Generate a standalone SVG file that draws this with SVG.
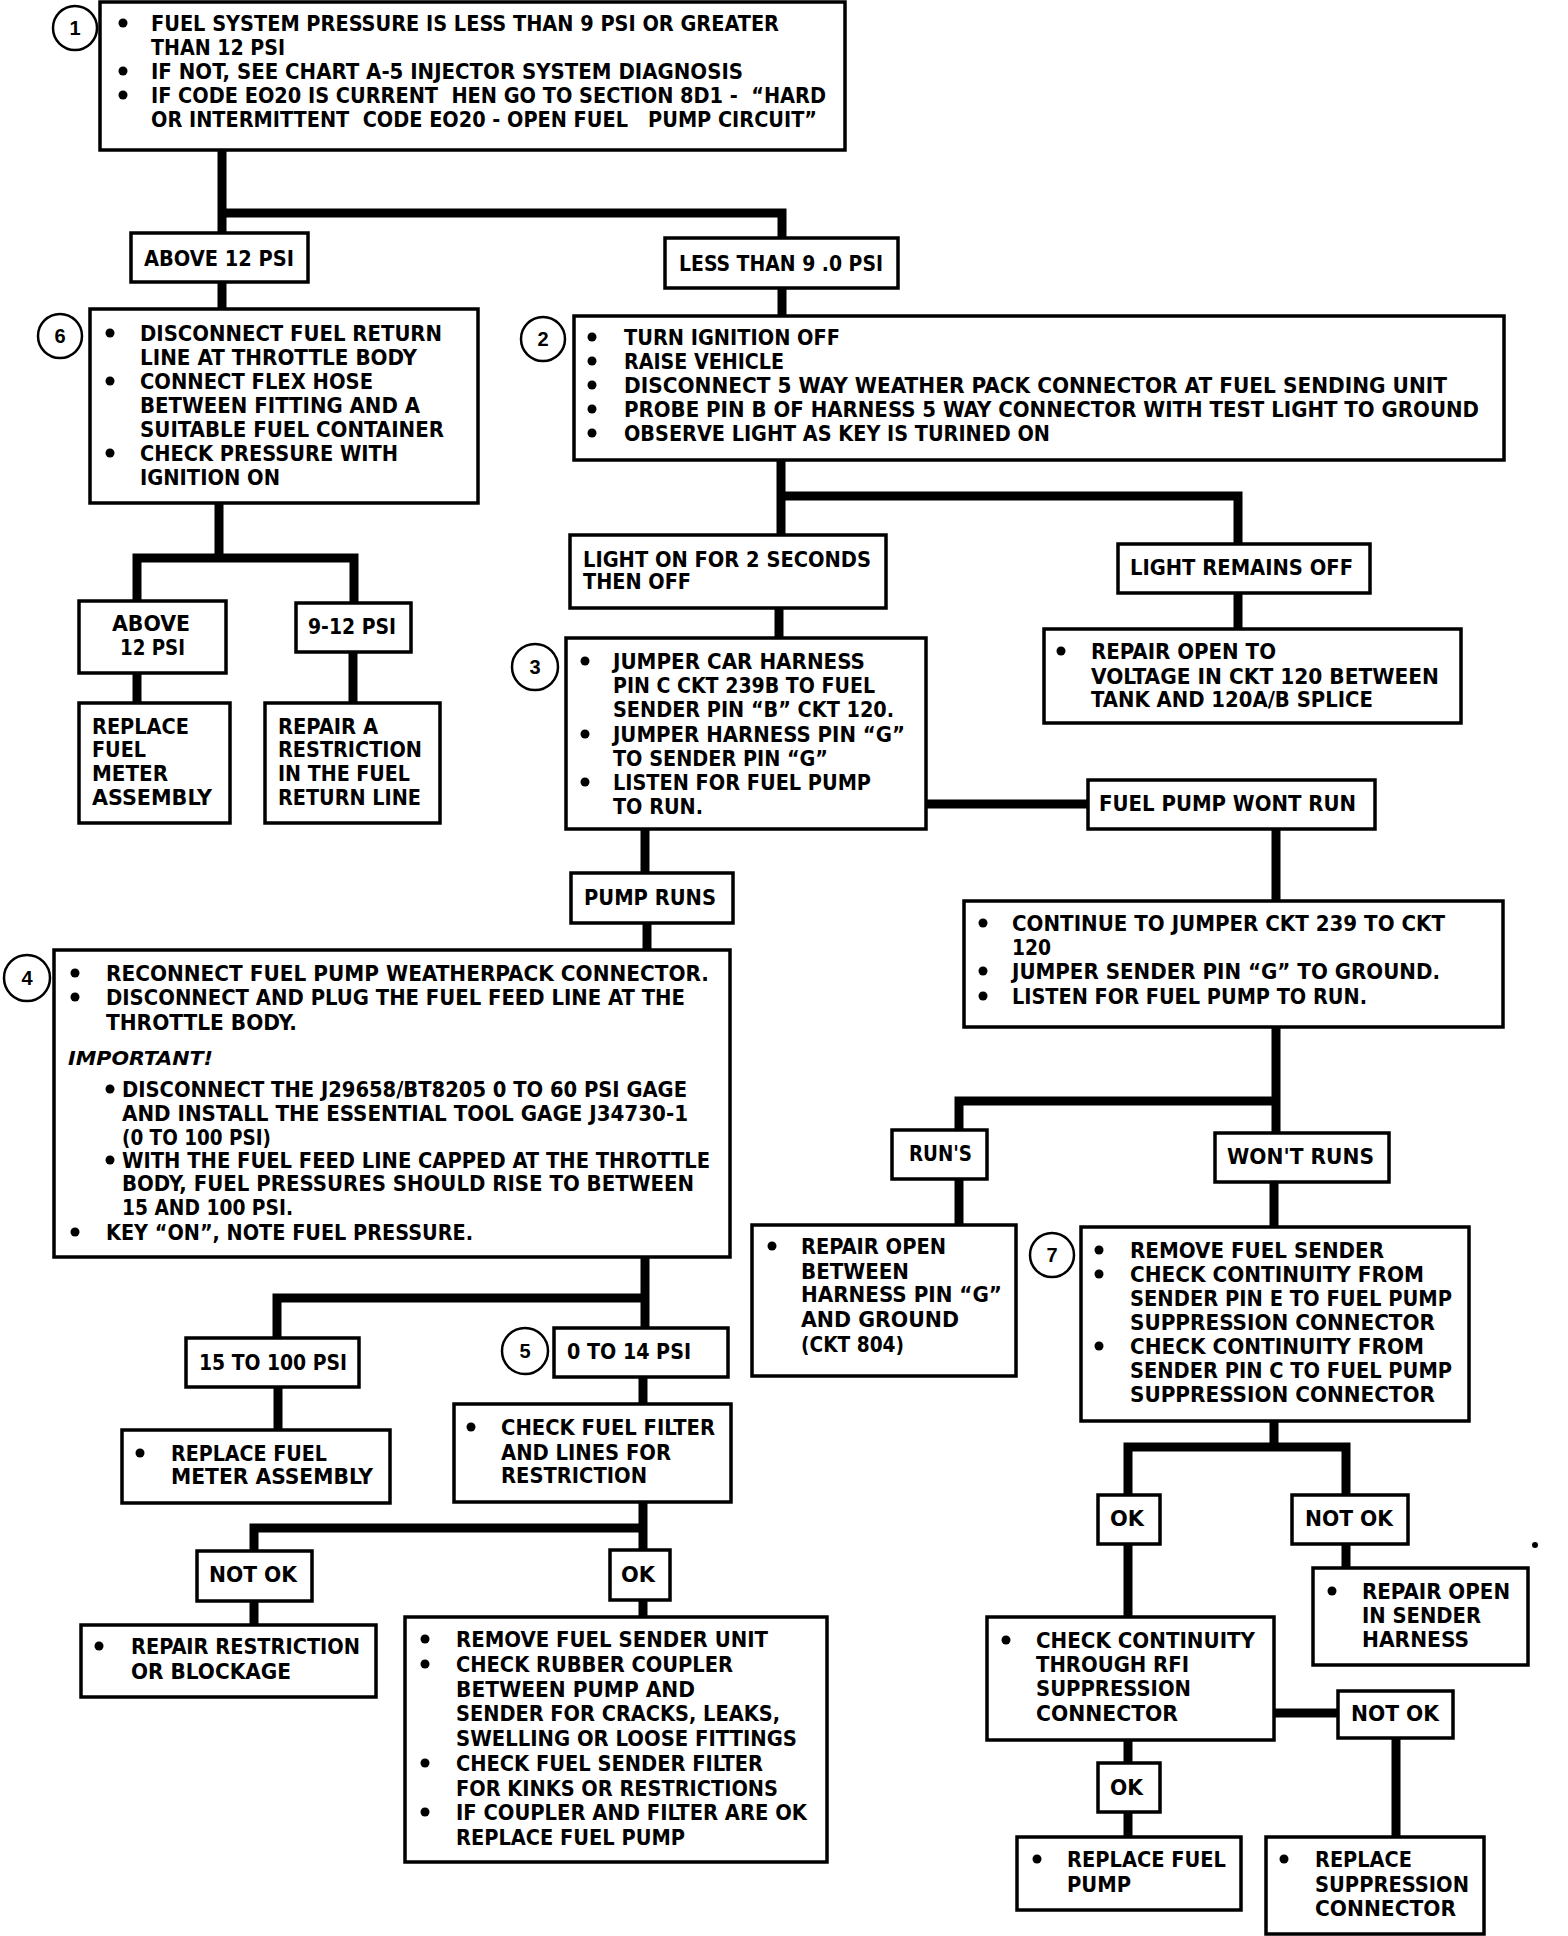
<svg xmlns="http://www.w3.org/2000/svg" width="1568" height="1936" viewBox="0 0 1568 1936">
<style>
.bx{fill:#fff;stroke:#000;stroke-width:3.5}
.t{font-family:"Liberation Sans Narrow","DejaVu Sans Condensed","Liberation Sans",Arial,sans-serif;font-weight:bold;font-size:21px;fill:#000}
.it{font-style:italic;font-size:19px}
.n{font-family:"Liberation Sans",Arial,sans-serif;font-weight:bold;font-size:20px;fill:#000;text-anchor:middle}
.nc{fill:#fff;stroke:#000;stroke-width:2.5}
.c{fill:none;stroke:#000;stroke-width:9;stroke-linejoin:miter;stroke-linecap:butt}
.d{fill:#000}
</style>
<rect width="1568" height="1936" fill="#fff"/>
<g id="connectors">
<path class="c" d="M222 150V233M222 213H782V238"/>
<path class="c" d="M222 282V309"/>
<path class="c" d="M782 288V316"/>
<path class="c" d="M219 503V558M137 601V558H354V603"/>
<path class="c" d="M137 673V703"/>
<path class="c" d="M353 652V703"/>
<path class="c" d="M781 460V535M781 496H1238V544"/>
<path class="c" d="M779 608V638"/>
<path class="c" d="M1238 593V629"/>
<path class="c" d="M926 804H1088"/>
<path class="c" d="M645 829V873"/>
<path class="c" d="M647 923V950"/>
<path class="c" d="M1276 829V901"/>
<path class="c" d="M1276 1027V1133M1276 1101H959V1130"/>
<path class="c" d="M959 1179V1225"/>
<path class="c" d="M1274 1182V1227"/>
<path class="c" d="M645 1257V1328M645 1298H277V1338"/>
<path class="c" d="M278 1387V1430"/>
<path class="c" d="M643 1377V1404"/>
<path class="c" d="M643 1502V1550M643 1528H254V1551"/>
<path class="c" d="M254 1601V1625"/>
<path class="c" d="M643 1600V1617"/>
<path class="c" d="M1274 1421V1447M1128 1495V1447H1346V1495"/>
<path class="c" d="M1346 1544V1568"/>
<path class="c" d="M1128 1544V1617"/>
<path class="c" d="M1274 1713H1338"/>
<path class="c" d="M1396 1738V1837"/>
<path class="c" d="M1128 1740V1763"/>
<path class="c" d="M1128 1812V1837"/>
</g>

<g id="step1">
<rect class="bx" x="100" y="2" width="745" height="148"/>
<circle class="nc" cx="75" cy="28" r="22"/><text class="n" x="75" y="35">1</text>
<circle class="d" cx="123" cy="23" r="4.5"/><circle class="d" cx="123" cy="71" r="4.5"/><circle class="d" cx="123" cy="95" r="4.5"/>
<text class="t" x="151" y="31" textLength="628" lengthAdjust="spacingAndGlyphs">FUEL SYSTEM PRESSURE IS LESS THAN 9 PSI OR GREATER</text>
<text class="t" x="151" y="55" textLength="134" lengthAdjust="spacingAndGlyphs">THAN 12 PSI</text>
<text class="t" x="151" y="79" textLength="592" lengthAdjust="spacingAndGlyphs">IF NOT, SEE CHART A-5 INJECTOR SYSTEM DIAGNOSIS</text>
<text class="t" x="151" y="103" textLength="675" lengthAdjust="spacingAndGlyphs" xml:space="preserve">IF CODE EO20 IS CURRENT  HEN GO TO SECTION 8D1 -  “HARD</text>
<text class="t" x="151" y="127" textLength="666" lengthAdjust="spacingAndGlyphs" xml:space="preserve">OR INTERMITTENT  CODE EO20 - OPEN FUEL   PUMP CIRCUIT”</text>
</g>

<g id="above12">
<rect class="bx" x="131" y="233" width="177" height="49"/>
<text class="t" x="144" y="266" textLength="150" lengthAdjust="spacingAndGlyphs">ABOVE 12 PSI</text>
</g>
<g id="less9">
<rect class="bx" x="665" y="238" width="233" height="50"/>
<text class="t" x="679" y="271" textLength="204" lengthAdjust="spacingAndGlyphs">LESS THAN 9 .0 PSI</text>
</g>

<g id="step6">
<rect class="bx" x="90" y="309" width="388" height="194"/>
<circle class="nc" cx="60" cy="336" r="22"/><text class="n" x="60" y="343">6</text>
<circle class="d" cx="110" cy="333" r="4.5"/><circle class="d" cx="110" cy="381" r="4.5"/><circle class="d" cx="110" cy="453" r="4.5"/>
<text class="t" x="140" y="341" textLength="302" lengthAdjust="spacingAndGlyphs">DISCONNECT FUEL RETURN</text>
<text class="t" x="140" y="365" textLength="277" lengthAdjust="spacingAndGlyphs">LINE AT THROTTLE BODY</text>
<text class="t" x="140" y="389" textLength="233" lengthAdjust="spacingAndGlyphs">CONNECT FLEX HOSE</text>
<text class="t" x="140" y="413" textLength="280" lengthAdjust="spacingAndGlyphs">BETWEEN FITTING AND A</text>
<text class="t" x="140" y="437" textLength="304" lengthAdjust="spacingAndGlyphs">SUITABLE FUEL CONTAINER</text>
<text class="t" x="140" y="461" textLength="258" lengthAdjust="spacingAndGlyphs">CHECK PRESSURE WITH</text>
<text class="t" x="140" y="485" textLength="140" lengthAdjust="spacingAndGlyphs">IGNITION ON</text>
</g>

<g id="above12b">
<rect class="bx" x="79" y="601" width="147" height="72"/>
<text class="t" x="112" y="631" textLength="78" lengthAdjust="spacingAndGlyphs">ABOVE</text>
<text class="t" x="120" y="655" textLength="65" lengthAdjust="spacingAndGlyphs">12 PSI</text>
</g>
<g id="psi912">
<rect class="bx" x="296" y="603" width="115" height="49"/>
<text class="t" x="308" y="634" textLength="88" lengthAdjust="spacingAndGlyphs">9-12 PSI</text>
</g>
<g id="replaceMeter">
<rect class="bx" x="79" y="703" width="151" height="120"/>
<text class="t" x="92" y="734" textLength="97" lengthAdjust="spacingAndGlyphs">REPLACE</text>
<text class="t" x="92" y="757" textLength="54" lengthAdjust="spacingAndGlyphs">FUEL</text>
<text class="t" x="92" y="781" textLength="76" lengthAdjust="spacingAndGlyphs">METER</text>
<text class="t" x="92" y="805" textLength="120" lengthAdjust="spacingAndGlyphs">ASSEMBLY</text>
</g>
<g id="repairRestrictionReturn">
<rect class="bx" x="265" y="703" width="175" height="120"/>
<text class="t" x="278" y="734" textLength="100" lengthAdjust="spacingAndGlyphs">REPAIR A</text>
<text class="t" x="278" y="757" textLength="144" lengthAdjust="spacingAndGlyphs">RESTRICTION</text>
<text class="t" x="278" y="781" textLength="132" lengthAdjust="spacingAndGlyphs">IN THE FUEL</text>
<text class="t" x="278" y="805" textLength="143" lengthAdjust="spacingAndGlyphs">RETURN LINE</text>
</g>

<g id="step2">
<rect class="bx" x="574" y="316" width="930" height="144"/>
<circle class="nc" cx="543" cy="339" r="22"/><text class="n" x="543" y="346">2</text>
<circle class="d" cx="592" cy="337" r="4.5"/><circle class="d" cx="592" cy="361" r="4.5"/><circle class="d" cx="592" cy="385" r="4.5"/><circle class="d" cx="592" cy="409" r="4.5"/><circle class="d" cx="592" cy="433" r="4.5"/>
<text class="t" x="624" y="345" textLength="216" lengthAdjust="spacingAndGlyphs">TURN IGNITION OFF</text>
<text class="t" x="624" y="369" textLength="160" lengthAdjust="spacingAndGlyphs">RAISE VEHICLE</text>
<text class="t" x="624" y="393" textLength="823" lengthAdjust="spacingAndGlyphs">DISCONNECT 5 WAY WEATHER PACK CONNECTOR AT FUEL SENDING UNIT</text>
<text class="t" x="624" y="417" textLength="855" lengthAdjust="spacingAndGlyphs">PROBE PIN B OF HARNESS 5 WAY CONNECTOR WITH TEST LIGHT TO GROUND</text>
<text class="t" x="624" y="441" textLength="426" lengthAdjust="spacingAndGlyphs">OBSERVE LIGHT AS KEY IS TURINED ON</text>
</g>

<g id="lightOn">
<rect class="bx" x="570" y="535" width="316" height="73"/>
<text class="t" x="583" y="567" textLength="288" lengthAdjust="spacingAndGlyphs">LIGHT ON FOR 2 SECONDS</text>
<text class="t" x="583" y="589" textLength="108" lengthAdjust="spacingAndGlyphs">THEN OFF</text>
</g>
<g id="lightOff">
<rect class="bx" x="1118" y="544" width="252" height="49"/>
<text class="t" x="1130" y="575" textLength="223" lengthAdjust="spacingAndGlyphs">LIGHT REMAINS OFF</text>
</g>
<g id="repairOpenTo">
<rect class="bx" x="1044" y="629" width="417" height="94"/>
<circle class="d" cx="1061" cy="651" r="4.5"/>
<text class="t" x="1091" y="659" textLength="185" lengthAdjust="spacingAndGlyphs">REPAIR OPEN TO</text>
<text class="t" x="1091" y="684" textLength="348" lengthAdjust="spacingAndGlyphs">VOLTAGE IN CKT 120 BETWEEN</text>
<text class="t" x="1091" y="707" textLength="282" lengthAdjust="spacingAndGlyphs">TANK AND 120A/B SPLICE</text>
</g>

<g id="step3">
<rect class="bx" x="566" y="638" width="360" height="191"/>
<circle class="nc" cx="535" cy="667" r="23"/><text class="n" x="535" y="674">3</text>
<circle class="d" cx="585" cy="661" r="4.5"/><circle class="d" cx="585" cy="734" r="4.5"/><circle class="d" cx="585" cy="782" r="4.5"/>
<text class="t" x="613" y="669" textLength="252" lengthAdjust="spacingAndGlyphs">JUMPER CAR HARNESS</text>
<text class="t" x="613" y="693" textLength="262" lengthAdjust="spacingAndGlyphs">PIN C CKT 239B TO FUEL</text>
<text class="t" x="613" y="717" textLength="281" lengthAdjust="spacingAndGlyphs">SENDER PIN “B” CKT 120.</text>
<text class="t" x="613" y="742" textLength="292" lengthAdjust="spacingAndGlyphs">JUMPER HARNESS PIN “G”</text>
<text class="t" x="613" y="766" textLength="215" lengthAdjust="spacingAndGlyphs">TO SENDER PIN “G”</text>
<text class="t" x="613" y="790" textLength="258" lengthAdjust="spacingAndGlyphs">LISTEN FOR FUEL PUMP</text>
<text class="t" x="613" y="814" textLength="90" lengthAdjust="spacingAndGlyphs">TO RUN.</text>
</g>

<g id="pumpWontRun">
<rect class="bx" x="1088" y="780" width="287" height="49"/>
<text class="t" x="1099" y="811" textLength="257" lengthAdjust="spacingAndGlyphs">FUEL PUMP WONT RUN</text>
</g>
<g id="pumpRuns">
<rect class="bx" x="571" y="873" width="162" height="50"/>
<text class="t" x="584" y="905" textLength="132" lengthAdjust="spacingAndGlyphs">PUMP RUNS</text>
</g>

<g id="step4">
<rect class="bx" x="54" y="950" width="676" height="307"/>
<circle class="nc" cx="27" cy="978" r="23"/><text class="n" x="27" y="985">4</text>
<circle class="d" cx="75" cy="973" r="4.5"/><circle class="d" cx="75" cy="997" r="4.5"/><circle class="d" cx="75" cy="1232" r="4.5"/>
<circle class="d" cx="110" cy="1089" r="4.5"/><circle class="d" cx="110" cy="1160" r="4.5"/>
<text class="t" x="106" y="981" textLength="603" lengthAdjust="spacingAndGlyphs">RECONNECT FUEL PUMP WEATHERPACK CONNECTOR.</text>
<text class="t" x="106" y="1005" textLength="579" lengthAdjust="spacingAndGlyphs">DISCONNECT AND PLUG THE FUEL FEED LINE AT THE</text>
<text class="t" x="106" y="1030" textLength="191" lengthAdjust="spacingAndGlyphs">THROTTLE BODY.</text>
<text class="t it" x="68" y="1065" textLength="145" lengthAdjust="spacingAndGlyphs">IMPORTANT!</text>
<text class="t" x="122" y="1097" textLength="565" lengthAdjust="spacingAndGlyphs">DISCONNECT THE J29658/BT8205 0 TO 60 PSI GAGE</text>
<text class="t" x="122" y="1121" textLength="566" lengthAdjust="spacingAndGlyphs">AND INSTALL THE ESSENTIAL TOOL GAGE J34730-1</text>
<text class="t" x="122" y="1145" textLength="149" lengthAdjust="spacingAndGlyphs">(0 TO 100 PSI)</text>
<text class="t" x="122" y="1168" textLength="588" lengthAdjust="spacingAndGlyphs">WITH THE FUEL FEED LINE CAPPED AT THE THROTTLE</text>
<text class="t" x="122" y="1191" textLength="572" lengthAdjust="spacingAndGlyphs">BODY, FUEL PRESSURES SHOULD RISE TO BETWEEN</text>
<text class="t" x="122" y="1215" textLength="171" lengthAdjust="spacingAndGlyphs">15 AND 100 PSI.</text>
<text class="t" x="106" y="1240" textLength="367" lengthAdjust="spacingAndGlyphs">KEY “ON”, NOTE FUEL PRESSURE.</text>
</g>

<g id="continueJumper">
<rect class="bx" x="964" y="901" width="539" height="126"/>
<circle class="d" cx="983" cy="923" r="4.5"/><circle class="d" cx="983" cy="971" r="4.5"/><circle class="d" cx="983" cy="996" r="4.5"/>
<text class="t" x="1012" y="931" textLength="433" lengthAdjust="spacingAndGlyphs">CONTINUE TO JUMPER CKT 239 TO CKT</text>
<text class="t" x="1012" y="955" textLength="39" lengthAdjust="spacingAndGlyphs">120</text>
<text class="t" x="1012" y="979" textLength="428" lengthAdjust="spacingAndGlyphs">JUMPER SENDER PIN “G” TO GROUND.</text>
<text class="t" x="1012" y="1004" textLength="355" lengthAdjust="spacingAndGlyphs">LISTEN FOR FUEL PUMP TO RUN.</text>
</g>

<g id="runs">
<rect class="bx" x="892" y="1130" width="95" height="49"/>
<text class="t" x="909" y="1161" textLength="63" lengthAdjust="spacingAndGlyphs">RUN'S</text>
</g>
<g id="wontRuns">
<rect class="bx" x="1215" y="1133" width="174" height="49"/>
<text class="t" x="1227" y="1164" textLength="147" lengthAdjust="spacingAndGlyphs">WON'T RUNS</text>
</g>
<g id="repairOpenBetween">
<rect class="bx" x="752" y="1225" width="264" height="151"/>
<circle class="d" cx="772" cy="1246" r="4.5"/>
<text class="t" x="801" y="1254" textLength="145" lengthAdjust="spacingAndGlyphs">REPAIR OPEN</text>
<text class="t" x="801" y="1279" textLength="108" lengthAdjust="spacingAndGlyphs">BETWEEN</text>
<text class="t" x="801" y="1302" textLength="201" lengthAdjust="spacingAndGlyphs">HARNESS PIN “G”</text>
<text class="t" x="801" y="1327" textLength="158" lengthAdjust="spacingAndGlyphs">AND GROUND</text>
<text class="t" x="801" y="1352" textLength="103" lengthAdjust="spacingAndGlyphs">(CKT 804)</text>
</g>

<g id="step7">
<rect class="bx" x="1081" y="1227" width="388" height="194"/>
<circle class="nc" cx="1052" cy="1255" r="22"/><text class="n" x="1052" y="1262">7</text>
<circle class="d" cx="1099" cy="1250" r="4.5"/><circle class="d" cx="1099" cy="1274" r="4.5"/><circle class="d" cx="1099" cy="1346" r="4.5"/>
<text class="t" x="1130" y="1258" textLength="254" lengthAdjust="spacingAndGlyphs">REMOVE FUEL SENDER</text>
<text class="t" x="1130" y="1282" textLength="294" lengthAdjust="spacingAndGlyphs">CHECK CONTINUITY FROM</text>
<text class="t" x="1130" y="1306" textLength="322" lengthAdjust="spacingAndGlyphs">SENDER PIN E TO FUEL PUMP</text>
<text class="t" x="1130" y="1330" textLength="305" lengthAdjust="spacingAndGlyphs">SUPPRESSION CONNECTOR</text>
<text class="t" x="1130" y="1354" textLength="294" lengthAdjust="spacingAndGlyphs">CHECK CONTINUITY FROM</text>
<text class="t" x="1130" y="1378" textLength="322" lengthAdjust="spacingAndGlyphs">SENDER PIN C TO FUEL PUMP</text>
<text class="t" x="1130" y="1402" textLength="305" lengthAdjust="spacingAndGlyphs">SUPPRESSION CONNECTOR</text>
</g>

<g id="psi15to100">
<rect class="bx" x="186" y="1338" width="173" height="49"/>
<text class="t" x="199" y="1370" textLength="148" lengthAdjust="spacingAndGlyphs">15 TO 100 PSI</text>
</g>
<g id="psi0to14">
<rect class="bx" x="554" y="1328" width="174" height="49"/>
<circle class="nc" cx="525" cy="1351" r="23"/><text class="n" x="525" y="1358">5</text>
<text class="t" x="567" y="1359" textLength="124" lengthAdjust="spacingAndGlyphs">0 TO 14 PSI</text>
</g>
<g id="replaceMeter2">
<rect class="bx" x="122" y="1430" width="268" height="73"/>
<circle class="d" cx="140" cy="1453" r="4.5"/>
<text class="t" x="171" y="1461" textLength="156" lengthAdjust="spacingAndGlyphs">REPLACE FUEL</text>
<text class="t" x="171" y="1484" textLength="202" lengthAdjust="spacingAndGlyphs">METER ASSEMBLY</text>
</g>
<g id="checkFilter">
<rect class="bx" x="454" y="1404" width="277" height="98"/>
<circle class="d" cx="471" cy="1427" r="4.5"/>
<text class="t" x="501" y="1435" textLength="214" lengthAdjust="spacingAndGlyphs">CHECK FUEL FILTER</text>
<text class="t" x="501" y="1460" textLength="170" lengthAdjust="spacingAndGlyphs">AND LINES FOR</text>
<text class="t" x="501" y="1483" textLength="146" lengthAdjust="spacingAndGlyphs">RESTRICTION</text>
</g>
<g id="notOk1">
<rect class="bx" x="197" y="1551" width="115" height="50"/>
<text class="t" x="209" y="1582" textLength="88" lengthAdjust="spacingAndGlyphs">NOT OK</text>
</g>
<g id="ok1">
<rect class="bx" x="610" y="1550" width="60" height="50"/>
<text class="t" x="621" y="1582" textLength="34" lengthAdjust="spacingAndGlyphs">OK</text>
</g>
<g id="repairRestriction">
<rect class="bx" x="81" y="1625" width="295" height="72"/>
<circle class="d" cx="99" cy="1646" r="4.5"/>
<text class="t" x="131" y="1654" textLength="229" lengthAdjust="spacingAndGlyphs">REPAIR RESTRICTION</text>
<text class="t" x="131" y="1679" textLength="160" lengthAdjust="spacingAndGlyphs">OR BLOCKAGE</text>
</g>
<g id="removeSender">
<rect class="bx" x="405" y="1617" width="422" height="245"/>
<circle class="d" cx="425" cy="1639" r="4.5"/><circle class="d" cx="425" cy="1664" r="4.5"/><circle class="d" cx="425" cy="1763" r="4.5"/><circle class="d" cx="425" cy="1812" r="4.5"/>
<text class="t" x="456" y="1647" textLength="312" lengthAdjust="spacingAndGlyphs">REMOVE FUEL SENDER UNIT</text>
<text class="t" x="456" y="1672" textLength="277" lengthAdjust="spacingAndGlyphs">CHECK RUBBER COUPLER</text>
<text class="t" x="456" y="1697" textLength="239" lengthAdjust="spacingAndGlyphs">BETWEEN PUMP AND</text>
<text class="t" x="456" y="1721" textLength="324" lengthAdjust="spacingAndGlyphs">SENDER FOR CRACKS, LEAKS,</text>
<text class="t" x="456" y="1746" textLength="341" lengthAdjust="spacingAndGlyphs">SWELLING OR LOOSE FITTINGS</text>
<text class="t" x="456" y="1771" textLength="307" lengthAdjust="spacingAndGlyphs">CHECK FUEL SENDER FILTER</text>
<text class="t" x="456" y="1796" textLength="322" lengthAdjust="spacingAndGlyphs">FOR KINKS OR RESTRICTIONS</text>
<text class="t" x="456" y="1820" textLength="351" lengthAdjust="spacingAndGlyphs">IF COUPLER AND FILTER ARE OK</text>
<text class="t" x="456" y="1845" textLength="229" lengthAdjust="spacingAndGlyphs">REPLACE FUEL PUMP</text>
</g>

<g id="ok2">
<rect class="bx" x="1098" y="1495" width="62" height="49"/>
<text class="t" x="1110" y="1526" textLength="34" lengthAdjust="spacingAndGlyphs">OK</text>
</g>
<g id="notOk2">
<rect class="bx" x="1292" y="1495" width="116" height="49"/>
<text class="t" x="1305" y="1526" textLength="88" lengthAdjust="spacingAndGlyphs">NOT OK</text>
</g>
<g id="repairSender">
<rect class="bx" x="1313" y="1568" width="215" height="97"/>
<circle class="d" cx="1332" cy="1591" r="4.5"/>
<text class="t" x="1362" y="1599" textLength="148" lengthAdjust="spacingAndGlyphs">REPAIR OPEN</text>
<text class="t" x="1362" y="1623" textLength="119" lengthAdjust="spacingAndGlyphs">IN SENDER</text>
<text class="t" x="1362" y="1647" textLength="107" lengthAdjust="spacingAndGlyphs">HARNESS</text>
</g>
<g id="checkContinuity">
<rect class="bx" x="987" y="1617" width="287" height="123"/>
<circle class="d" cx="1006" cy="1640" r="4.5"/>
<text class="t" x="1036" y="1648" textLength="219" lengthAdjust="spacingAndGlyphs">CHECK CONTINUITY</text>
<text class="t" x="1036" y="1672" textLength="153" lengthAdjust="spacingAndGlyphs">THROUGH RFI</text>
<text class="t" x="1036" y="1696" textLength="155" lengthAdjust="spacingAndGlyphs">SUPPRESSION</text>
<text class="t" x="1036" y="1721" textLength="142" lengthAdjust="spacingAndGlyphs">CONNECTOR</text>
</g>
<g id="notOk3">
<rect class="bx" x="1338" y="1691" width="115" height="47"/>
<text class="t" x="1351" y="1721" textLength="88" lengthAdjust="spacingAndGlyphs">NOT OK</text>
</g>
<g id="ok3">
<rect class="bx" x="1098" y="1763" width="62" height="49"/>
<text class="t" x="1110" y="1795" textLength="33" lengthAdjust="spacingAndGlyphs">OK</text>
</g>
<g id="replacePump">
<rect class="bx" x="1017" y="1837" width="224" height="73"/>
<circle class="d" cx="1037" cy="1859" r="4.5"/>
<text class="t" x="1067" y="1867" textLength="159" lengthAdjust="spacingAndGlyphs">REPLACE FUEL</text>
<text class="t" x="1067" y="1892" textLength="64" lengthAdjust="spacingAndGlyphs">PUMP</text>
</g>
<g id="replaceSuppression">
<rect class="bx" x="1266" y="1837" width="218" height="97"/>
<circle class="d" cx="1284" cy="1859" r="4.5"/>
<text class="t" x="1315" y="1867" textLength="97" lengthAdjust="spacingAndGlyphs">REPLACE</text>
<text class="t" x="1315" y="1892" textLength="154" lengthAdjust="spacingAndGlyphs">SUPPRESSION</text>
<text class="t" x="1315" y="1916" textLength="141" lengthAdjust="spacingAndGlyphs">CONNECTOR</text>
</g>
<circle class="d" cx="1535" cy="1545" r="3"/>
</svg>
